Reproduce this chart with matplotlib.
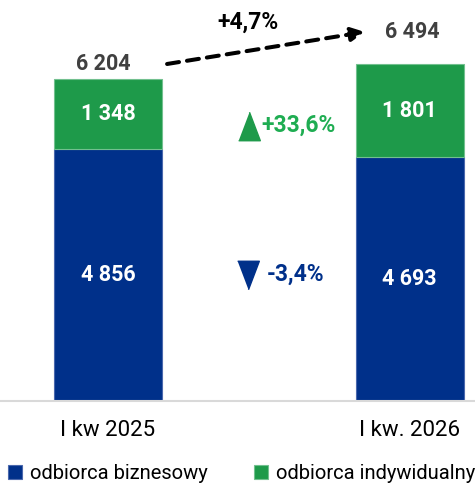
import matplotlib.pyplot as plt
import numpy as np

# dane: liczba odbiorców w podziale na segmenty
kategorie = ["I kw 2025", "I kw. 2026"]
biznesowy = [4856, 4693]
indywidualny = [1348, 1801]
etykiety_biz = ["4 856", "4 693"]
etykiety_ind = ["1 348", "1 801"]
etykiety_sum = ["6 204", "6 494"]
zmiana_sum = "+4,7%"
zmiana_ind = "+33,6%"
zmiana_biz = "-3,4%"

NIEBIESKI = "#00308a"
ZIELONY = "#1e9a4a"
ZIELONY_TXT = "#1fad52"
SZARY = "#404040"

plt.rcParams['font.family'] = ['Roboto', 'DejaVu Sans']

fig = plt.figure(figsize=(4.75, 4.86), dpi=100)
ax = fig.add_axes([0, 0.175, 1, 0.825])

x = np.arange(len(kategorie))
szer = 0.358
biz = np.array(biznesowy)
ind = np.array(indywidualny)
suma = biz + ind

ax.bar(x, biz, szer, color=NIEBIESKI, edgecolor="#4a68ad", linewidth=0.8,
       label="odbiorca biznesowy")
ax.bar(x, ind, szer, bottom=biz, color=ZIELONY, edgecolor="#72c08f", linewidth=0.8,
       label="odbiorca indywidualny")

# etykiety wewnątrz słupków
for i in range(len(x)):
    ax.text(x[i], biz[i] / 2, etykiety_biz[i], ha="center", va="center",
            color="white", fontsize=15.5, fontweight="bold")
    ax.text(x[i], biz[i] + ind[i] / 2, etykiety_ind[i], ha="center", va="center",
            color="white", fontsize=15.5, fontweight="bold")

# sumy nad słupkami
ax.annotate(etykiety_sum[0], (x[0], suma[0]), xytext=(-3, 11), textcoords="offset points",
            ha="center", va="center", color=SZARY, fontsize=15.5, fontweight="bold")
ax.annotate(etykiety_sum[1], (x[1], suma[1]), xytext=(2, 23), textcoords="offset points",
            ha="center", va="center", color=SZARY, fontsize=15.5, fontweight="bold")

# strzałka wzrostu sumy
ax.annotate("", xy=(0.852, 7110), xytext=(0.196, 6493),
            arrowprops=dict(arrowstyle="-|>,head_length=0.8,head_width=0.4", color="black",
                            lw=2.9, linestyle=(0, (3.0, 2.0)), shrinkA=0, shrinkB=0))
ax.text(0.465, 7290, zmiana_sum, ha="center", va="center", color="black",
        fontsize=16.5, fontweight="bold")

# zmiany w segmentach (trójkąty wyższe niż szersze)
tr_gora = [(-0.38, -0.5), (0.38, -0.5), (0, 0.5)]
tr_dol = [(-0.38, 0.5), (0.38, 0.5), (0, -0.5)]
ax.plot(0.467, 5289, marker=tr_gora, markersize=20.5, color=ZIELONY, linestyle="none")
ax.text(0.51, 5320, zmiana_ind, ha="left", va="center", color=ZIELONY_TXT,
        fontsize=16.5, fontweight="bold")
ax.plot(0.464, 2418, marker=tr_dol, markersize=20.5, color=NIEBIESKI, linestyle="none")
ax.text(0.527, 2450, zmiana_biz, ha="left", va="center", color=NIEBIESKI,
        fontsize=16.5, fontweight="bold")

ax.set_xlim(-0.358, 1.217)
ax.set_ylim(0, 7726)
for s in ["top", "left", "right"]:
    ax.spines[s].set_visible(False)
ax.spines["bottom"].set_color("#d9d9d9")
ax.spines["bottom"].set_linewidth(1.5)
ax.set_yticks([])
ax.set_xticks(x)
ax.set_xticklabels(kategorie, fontsize=16, color="black")
ax.tick_params(axis="x", length=0, pad=14)

fig.legend(loc="lower left", bbox_to_anchor=(0.0, -0.011), ncol=2, frameon=False,
           fontsize=14.5, handlelength=0.7, handleheight=0.7, handletextpad=0.4,
           columnspacing=2.3, borderaxespad=0)

fig.savefig("out.png", dpi=100)
